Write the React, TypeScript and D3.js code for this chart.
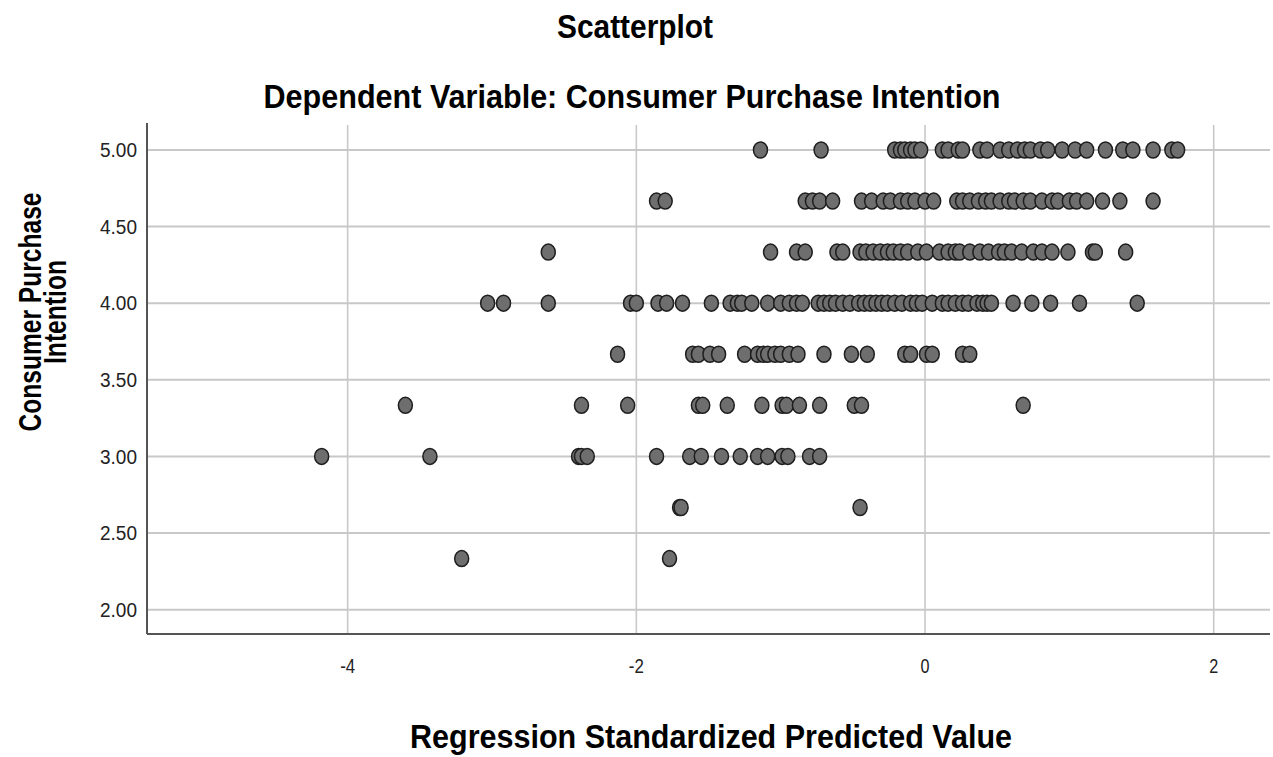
import React from "react";
import * as d3 from "d3";

const W = 1273;
const H = 757;

// regression standardized predicted values, grouped by observed purchase intention score
const at500 = [-1.14, -0.72, -0.21, -0.17, -0.14, -0.1, -0.07, -0.03, 0.12, 0.16, 0.23, 0.26, 0.38, 0.43, 0.52, 0.58, 0.64, 0.69, 0.73, 0.8, 0.85, 0.95, 1.04, 1.12, 1.25, 1.37, 1.44, 1.58, 1.71, 1.75];
const at467 = [-1.86, -1.8, -0.83, -0.78, -0.73, -0.64, -0.44, -0.37, -0.29, -0.24, -0.17, -0.12, -0.07, 0.0, 0.06, 0.22, 0.26, 0.31, 0.37, 0.42, 0.46, 0.52, 0.58, 0.62, 0.68, 0.73, 0.81, 0.88, 0.92, 1.0, 1.05, 1.12, 1.23, 1.35, 1.58];
const at433 = [-2.61, -1.07, -0.89, -0.83, -0.61, -0.57, -0.45, -0.41, -0.36, -0.31, -0.26, -0.22, -0.17, -0.12, -0.05, 0.01, 0.1, 0.16, 0.21, 0.24, 0.31, 0.38, 0.44, 0.51, 0.55, 0.6, 0.67, 0.75, 0.81, 0.88, 0.99, 1.16, 1.18, 1.39];
const at400 = [-3.03, -2.92, -2.61, -2.04, -2.0, -1.85, -1.79, -1.68, -1.48, -1.35, -1.3, -1.27, -1.2, -1.09, -1.0, -0.94, -0.89, -0.85, -0.74, -0.7, -0.66, -0.62, -0.57, -0.52, -0.46, -0.42, -0.38, -0.34, -0.3, -0.26, -0.21, -0.16, -0.1, -0.06, -0.02, 0.05, 0.12, 0.16, 0.21, 0.26, 0.3, 0.36, 0.4, 0.43, 0.46, 0.61, 0.74, 0.87, 1.07, 1.47];
const at367 = [-2.13, -1.61, -1.57, -1.49, -1.43, -1.25, -1.16, -1.12, -1.09, -1.04, -1.0, -0.94, -0.88, -0.7, -0.51, -0.4, -0.14, -0.1, 0.01, 0.05, 0.26, 0.31];
const at333 = [-3.6, -2.38, -2.06, -1.57, -1.54, -1.37, -1.13, -0.99, -0.96, -0.87, -0.73, -0.49, -0.44, 0.68];
const at300 = [-4.18, -3.43, -2.4, -2.38, -2.34, -1.86, -1.63, -1.55, -1.41, -1.28, -1.16, -1.09, -0.99, -0.95, -0.8, -0.73];
const at267 = [-1.7, -1.69, -0.45];
const at233 = [-3.21, -1.77];

const scores = [5, 14 / 3, 13 / 3, 4, 11 / 3, 10 / 3, 3, 8 / 3, 7 / 3];
const predicted = [at500, at467, at433, at400, at367, at333, at300, at267, at233];

const yTicks = [2, 2.5, 3, 3.5, 4, 4.5, 5];
const xTicks = [-4, -2, 0, 2];

const FONT = "'Liberation Sans', Arial, sans-serif";

export default function App() {
  const left = 147;
  const right = 1270;
  const top = 125;
  const bottom = 634;

  const x = d3.scaleLinear().domain([-5.39, 2.39]).range([left, right]);
  const y = d3.scaleLinear().domain([1.841, 5.163]).range([bottom, top]);

  const points = scores.flatMap((s, i) => predicted[i].map((p) => ({ p, s })));

  return (
    <svg
      width={W}
      height={H}
      style={{ position: "absolute", left: 0, top: 0, background: "#fff" }}
    >
      <rect width={W} height={H} fill="#fff" />

      {/* grid */}
      {yTicks.map((t) => (
        <line key={"gy" + t} x1={left} x2={right} y1={y(t)} y2={y(t)} stroke="#c8c8c8" strokeWidth={2} />
      ))}
      {xTicks.map((t) => (
        <line key={"gx" + t} x1={x(t)} x2={x(t)} y1={top} y2={bottom} stroke="#c8c8c8" strokeWidth={1.6} />
      ))}

      {/* axes */}
      <line x1={left} x2={left} y1={top - 2} y2={bottom} stroke="#555" strokeWidth={2} />
      <line x1={left} x2={right} y1={bottom} y2={bottom} stroke="#555" strokeWidth={2} />

      {/* points */}
      {points.map((d, i) => (
        <ellipse
          key={i}
          cx={x(d.p)}
          cy={y(d.s)}
          rx={7}
          ry={8}
          fill="#6e6e6e"
          stroke="#1e1e1e"
          strokeWidth={1.5}
        />
      ))}

      {/* tick labels */}
      {yTicks.map((t) => (
        <text
          key={"ty" + t}
          x={137}
          y={y(t)}
          dy="0.36em"
          textAnchor="end"
          fontFamily={FONT}
          fontSize={20}
          textLength={37}
          lengthAdjust="spacingAndGlyphs"
          fill="#222"
        >
          {d3.format(".2f")(t)}
        </text>
      ))}
      {xTicks.map((t) => (
        <text
          key={"tx" + t}
          x={x(t)}
          y={673}
          textAnchor="middle"
          fontFamily={FONT}
          fontSize={20}
          textLength={t < 0 ? 15 : 9}
          lengthAdjust="spacingAndGlyphs"
          fill="#222"
        >
          {t}
        </text>
      ))}

      {/* titles */}
      <text x={635} y={38} textAnchor="middle" fontFamily={FONT} fontWeight="bold" fontSize={33} textLength={156} lengthAdjust="spacingAndGlyphs">
        Scatterplot
      </text>
      <text x={632} y={108} textAnchor="middle" fontFamily={FONT} fontWeight="bold" fontSize={34} textLength={737} lengthAdjust="spacingAndGlyphs">
        Dependent Variable: Consumer Purchase Intention
      </text>
      <text x={711} y={748} textAnchor="middle" fontFamily={FONT} fontWeight="bold" fontSize={34} textLength={602} lengthAdjust="spacingAndGlyphs">
        Regression Standardized Predicted Value
      </text>
      <g transform="translate(0,312) rotate(-90) scale(1,1.3)">
        <text x={0} y={31.5} textAnchor="middle" fontFamily={FONT} fontWeight="bold" fontSize={24.5} textLength={239} lengthAdjust="spacingAndGlyphs">
          Consumer Purchase
        </text>
        <text x={0} y={50.5} textAnchor="middle" fontFamily={FONT} fontWeight="bold" fontSize={24.5} textLength={104} lengthAdjust="spacingAndGlyphs">
          Intention
        </text>
      </g>
    </svg>
  );
}
